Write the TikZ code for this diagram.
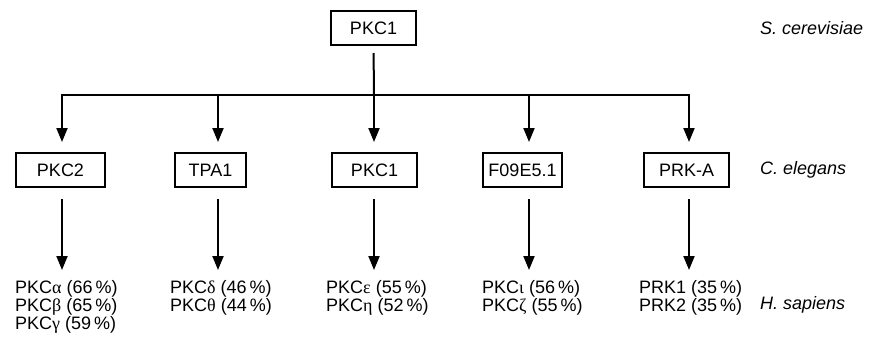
\documentclass[tikz,border=0pt]{standalone}
\usepackage{fontspec}
\setmainfont{Liberation Sans}
\newfontfamily\grk{Liberation Serif}
\usetikzlibrary{arrows.meta}
\newcommand{\gk}[1]{{\grk #1}}
\begin{document}
\begin{tikzpicture}[x=1pt,y=-1pt,
  every node/.style={font=\fontsize{18}{18}\selectfont},
  genebox/.style={draw, line width=2pt, minimum height=34pt, inner sep=0pt},
  link/.style={line width=2pt},
  arr/.style={line width=2pt, -{Triangle[width=11pt,length=14pt]}},
  species/.style={anchor=west, inner sep=0pt, font=\fontsize{18}{18}\selectfont\itshape},
  homologs/.style={anchor=north west, inner sep=0pt, align=left}]
\useasboundingbox (0,0) rectangle (874,346);

% yeast
\node[genebox, minimum width=85pt] (yPKC1) at (373.5,28) {PKC1};
\node[species] at (760,28) {S. cerevisiae};

% branch points on the distribution bar
\coordinate (hub) at (374,95);
\coordinate (b1) at (62,95);
\coordinate (b2) at (218,95);
\coordinate (b3) at (374,95);
\coordinate (b4) at (529,95);
\coordinate (b5) at (689,95);

% worm
\node[genebox, minimum width=89pt] (cPKC2) at (60.5,170) {PKC2};
\node[genebox, minimum width=71pt] (cTPA1) at (210.5,170) {TPA1};
\node[genebox, minimum width=85pt] (cPKC1) at (374.5,170) {PKC1};
\node[genebox, minimum width=79pt] (cF09) at (522.5,170) {F09E5.1};
\node[genebox, minimum width=85pt] (cPRK) at (686.5,170) {PRK-A};
\node[species] at (760,170) {C. elegans};

% human
\node[homologs] (h1) at (15,280) {PKC\gk{α} (66\,\%)\\PKC\gk{β} (65\,\%)\\PKC\gk{γ} (59\,\%)};
\node[homologs] (h2) at (170,280) {PKC\gk{δ} (46\,\%)\\PKC\gk{θ} (44\,\%)};
\node[homologs] (h3) at (326,280) {PKC\gk{ε} (55\,\%)\\PKC\gk{η} (52\,\%)};
\node[homologs] (h4) at (482,280) {PKC\gk{ι} (56\,\%)\\PKC\gk{ζ} (55\,\%)};
\node[homologs] (h5) at (639,280) {PRK1 (35\,\%)\\PRK2 (35\,\%)};
\node[species] at (760,305) {H. sapiens};

% yeast to worm
\draw[link, shorten <=7pt] (yPKC1.south) -- (hub);
\draw[link, line cap=rect] (b1) -- (b5);
\foreach \b/\g in {b1/cPKC2, b2/cTPA1, b3/cPKC1, b4/cF09, b5/cPRK}
  \draw[arr, shorten >=10pt] (\b) -- (\b |- \g.north);

% worm to human
\foreach \b/\g/\h in {b1/cPKC2/h1, b2/cTPA1/h2, b3/cPKC1/h3, b4/cF09/h4, b5/cPRK/h5}
  \draw[arr, shorten <=11pt, shorten >=10pt] (\b |- \g.south) -- (\b |- \h.north);
\end{tikzpicture}
\end{document}
